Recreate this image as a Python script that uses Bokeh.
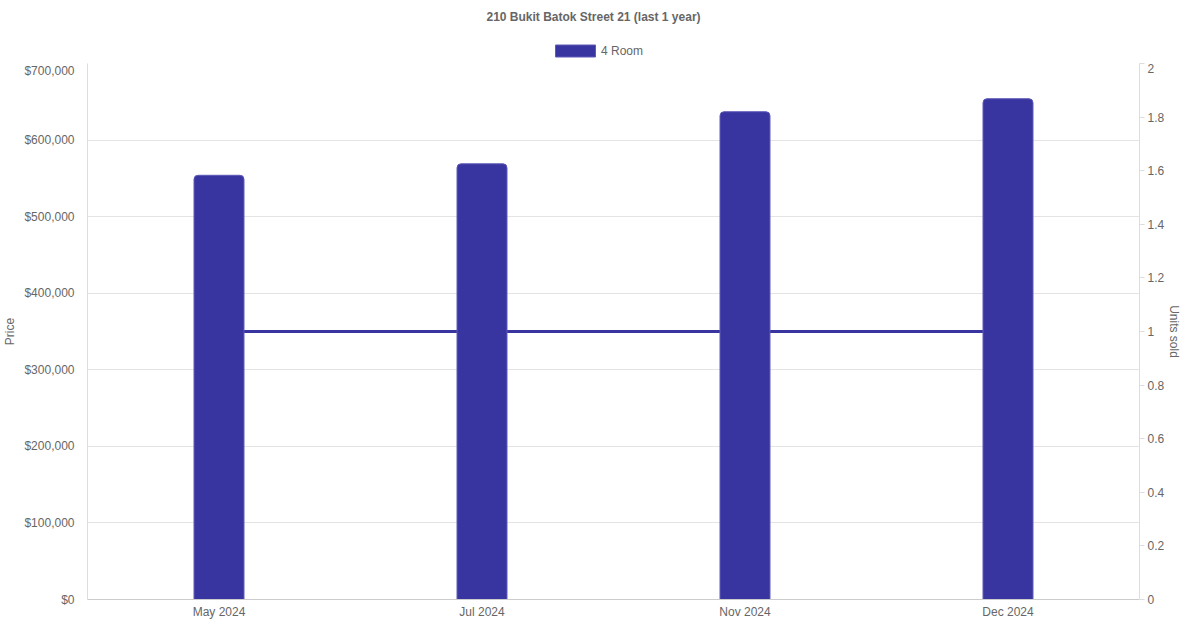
from bokeh.plotting import figure
from bokeh.layouts import column
from bokeh.models import (FactorRange, Range1d, LinearAxis, FixedTicker, NumeralTickFormatter,
                          CustomJSTickFormatter, Legend, LegendItem, ColumnDataSource, Label)
from bokeh.embed import file_html
from bokeh.resources import INLINE

# ---- data ----
title_text = "210 Bukit Batok Street 21 (last 1 year)"
series_name = "4 Room"
months = ["May 2024", "Jul 2024", "Nov 2024", "Dec 2024"]
prices = [554000, 569000, 637000, 654000]
units_sold = [1, 1, 1, 1]
price_ticks = [0, 100000, 200000, 300000, 400000, 500000, 600000, 700000]
unit_ticks = [0, 0.2, 0.4, 0.6, 0.8, 1.0, 1.2, 1.4, 1.6, 1.8, 2.0]

FONT = "Liberation Sans"
TXT = "#666666"
BAR = "#3834a0"
BAR_EDGE = "#5e5ab8"
GRID = "#e4e4e4"
W = 1184
HEAD_H = 63
MAIN_H = 558

src = ColumnDataSource(dict(month=months, price=prices, units=units_sold))
xr = FactorRange(factors=months, range_padding=0)

# ---------------- header (title + legend) ----------------
hdr = figure(width=W, height=HEAD_H, x_range=xr, y_range=Range1d(0, 1),
             x_axis_type=None, y_axis_type=None,
             output_backend="svg", toolbar_location=None,
             min_border_left=0, min_border_right=0, min_border_top=0, min_border_bottom=0)
hdr.grid.visible = False
hdr.outline_line_color = None
hdr.add_layout(Label(x=593, y=16, x_units="canvas", y_units="canvas", text=title_text,
                     text_align="center", text_baseline="middle",
                     text_font=FONT, text_font_size="12px", text_font_style="bold",
                     text_color=TXT))
# legend proxy (not rendered itself, only provides the legend swatch style)
swatch = hdr.vbar(x="month", top="price", width=0.19, source=src,
                  fill_color=BAR, line_color=BAR_EDGE, line_width=1, visible=False)
legend = Legend(items=[LegendItem(label=series_name, renderers=[swatch])],
                location=(463, 5), orientation="horizontal",
                glyph_width=50, glyph_height=15, label_height=15,
                padding=0, margin=0, spacing=0, label_standoff=1,
                border_line_color=None, background_fill_alpha=0,
                label_text_font=FONT, label_text_font_size="12px",
                label_text_color=TXT, label_text_baseline="middle")
hdr.add_layout(legend)

# ---------------- main chart ----------------
p = figure(width=W, height=MAIN_H,
           x_range=xr,
           y_range=Range1d(price_ticks[0], price_ticks[-1]),
           output_backend="svg", toolbar_location=None,
           min_border_left=80, min_border_right=0, min_border_top=0, min_border_bottom=0)
p.extra_y_ranges = {"units": Range1d(unit_ticks[0], unit_ticks[-1])}
p.outline_line_color = None

# line (units sold) drawn behind bars
p.line(x="month", y="units", source=src, y_range_name="units",
       line_color=BAR, line_width=3)

bars = p.vbar(x="month", top="price", width=0.19, source=src,
              fill_color=BAR, line_color=BAR_EDGE, line_width=1,
              border_radius=(4, 4, 0, 0))

p.xgrid.grid_line_color = None
p.ygrid.grid_line_color = GRID
p.ygrid.ticker = FixedTicker(ticks=price_ticks)

xa = p.xaxis[0]
xa.axis_line_color = "#cccccc"
xa.major_tick_line_color = None
xa.major_tick_out = 0
xa.major_tick_in = 0
xa.minor_tick_line_color = None
xa.minor_tick_out = 0
xa.major_label_standoff = 5
xa.major_label_text_font = FONT
xa.major_label_text_font_size = "12px"
xa.major_label_text_color = TXT
xa.major_label_text_line_height = 1.0

ya = p.yaxis[0]
ya.ticker = FixedTicker(ticks=price_ticks)
ya.formatter = NumeralTickFormatter(format="$0,0")
ya.axis_line_color = "#dddddd"
ya.major_tick_line_color = None
ya.major_tick_out = 0
ya.major_tick_in = 0
ya.minor_tick_line_color = None
ya.minor_tick_out = 0
ya.major_label_standoff = 13
ya.major_label_text_font = FONT
ya.major_label_text_font_size = "12px"
ya.major_label_text_color = TXT
ya.axis_label = "Price"
ya.axis_label_standoff = 4
ya.axis_label_text_font = FONT
ya.axis_label_text_font_size = "12px"
ya.axis_label_text_font_style = "normal"
ya.axis_label_text_color = TXT

ra = LinearAxis(y_range_name="units", ticker=FixedTicker(ticks=unit_ticks),
                formatter=CustomJSTickFormatter(code="return (Math.round(tick*10)/10).toString();"))
ra.axis_line_color = "#dddddd"
ra.major_tick_line_color = "#dddddd"
ra.major_tick_out = 5
ra.major_tick_in = 0
ra.minor_tick_line_color = None
ra.minor_tick_out = 0
ra.major_label_standoff = 3
ra.major_label_text_font = FONT
ra.major_label_text_font_size = "12px"
ra.major_label_text_color = TXT
ra.axis_label = "Units sold"
ra.axis_label_standoff = 0
ra.axis_label_text_font = FONT
ra.axis_label_text_font_size = "12px"
ra.axis_label_text_font_style = "normal"
ra.axis_label_text_color = TXT
ra.axis_label_text_line_height = 1.0
p.add_layout(ra, "right")

layout = column(hdr, p, spacing=0)
open("out.html", "w").write(file_html(layout, INLINE))
